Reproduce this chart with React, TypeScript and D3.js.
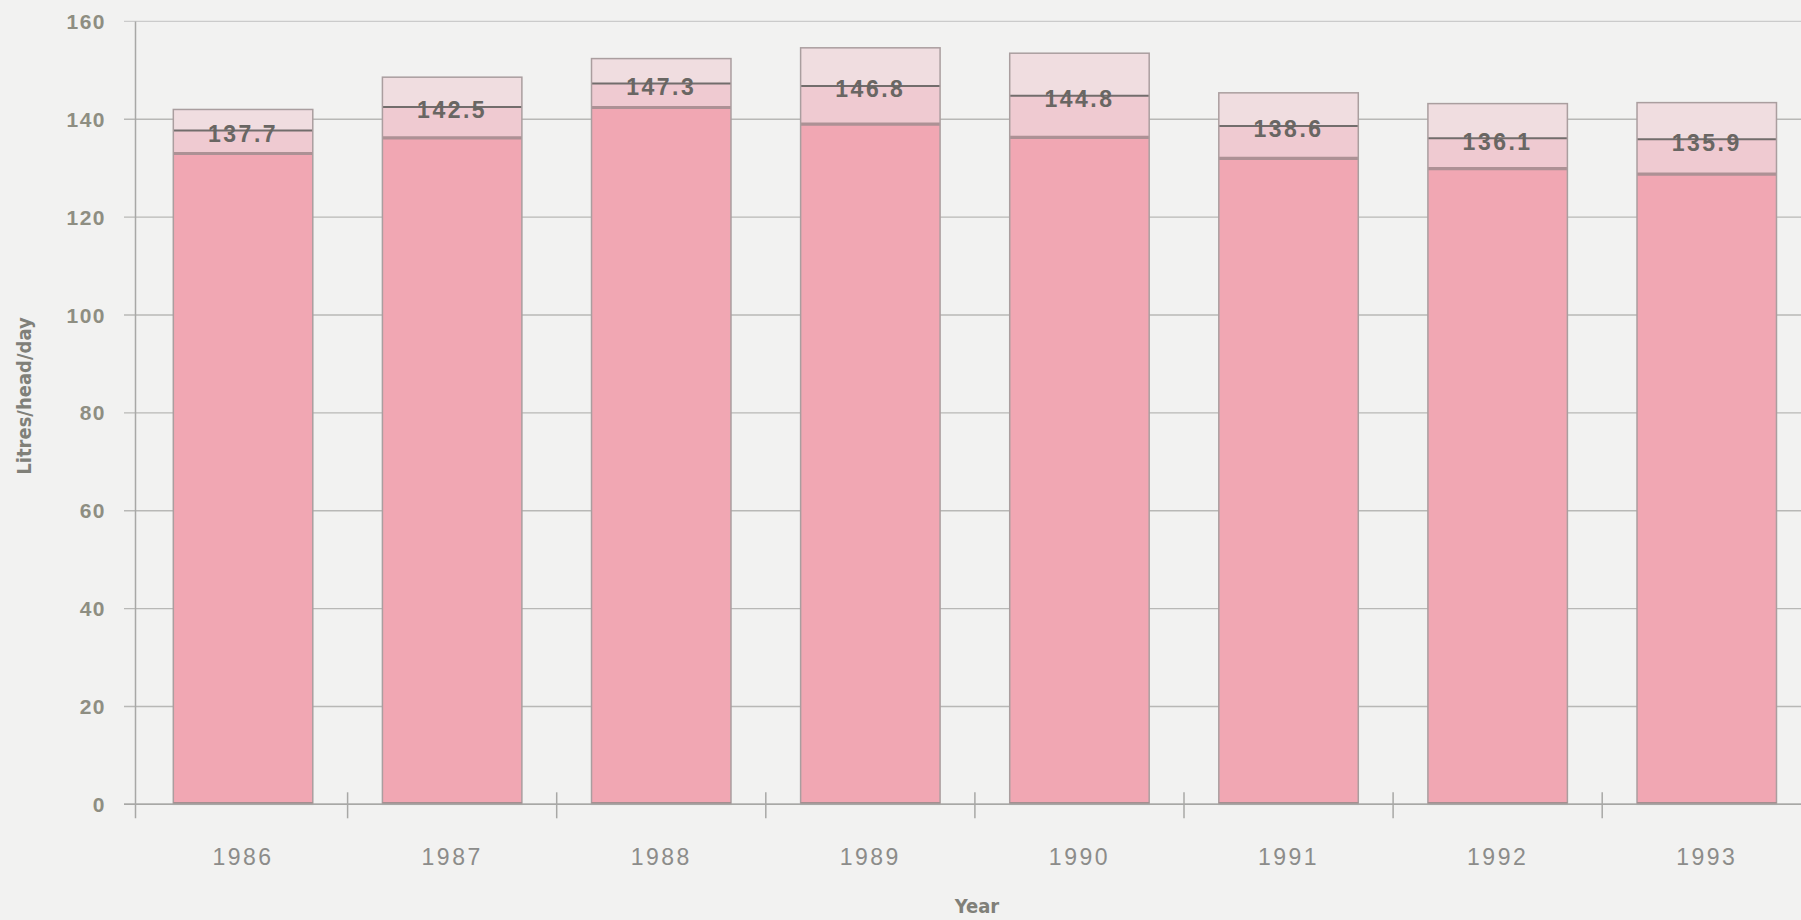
import React from 'react';
import * as d3 from 'd3';

const years = ['1986', '1987', '1988', '1989', '1990', '1991', '1992', '1993'];
const baseValues = [133.0, 136.2, 142.4, 139.0, 136.3, 132.0, 129.9, 128.8];
const labelTotals = [137.7, 142.5, 147.3, 146.8, 144.8, 138.6, 136.1, 135.9];
const grandTotals = [142.0, 148.6, 152.4, 154.6, 153.5, 145.4, 143.2, 143.4];
const yTicks = [0, 20, 40, 60, 80, 100, 120, 140, 160];

const W = 1801;
const H = 920;
const SANS = 'Liberation Sans, Arial, Helvetica, sans-serif';
const NARROW = 'Liberation Sans Narrow, Arial Narrow, DejaVu Sans Condensed, sans-serif';

export default function App() {
  const rows = years.map((yr, i) => ({
    year: yr,
    base: baseValues[i],
    mid: labelTotals[i] - baseValues[i],
    top: grandTotals[i] - labelTotals[i],
  }));
  const stack = d3.stack<any>().keys(['base', 'mid', 'top']);
  const series = stack(rows);

  const step = 209.1;
  const x0 = 138.5;
  const x = d3
    .scaleBand<string>()
    .domain(years)
    .range([x0, x0 + step * years.length])
    .paddingInner(0.333)
    .paddingOuter(0.1665);
  const y = d3.scaleLinear().domain([0, 160]).range([804.3, 21.4]);

  const fills: Record<string, string> = {
    base: '#f1a7b3',
    mid: '#efcad1',
    top: '#f0dde0',
  };

  const axisX = 135.5;
  const bw = x.bandwidth();

  return (
    <svg
      width={W}
      height={H}
      style={{ position: 'absolute', left: 0, top: 0, display: 'block', background: '#f2f2f1' }}
    >
      <rect x={0} y={0} width={W} height={H} fill="#f2f2f1" />
      {yTicks.map((t) => (
        <line
          key={'g' + t}
          x1={124}
          x2={W}
          y1={y(t)}
          y2={y(t)}
          stroke={t === 160 ? '#cbcbcb' : '#b8b8b6'}
          strokeWidth={1.4}
        />
      ))}
      <line x1={axisX} x2={axisX} y1={y(160)} y2={y(0) + 14} stroke="#a8a8a6" strokeWidth={1.5} />
      {yTicks.map((t) => (
        <text
          key={'yl' + t}
          x={106}
          y={y(t)}
          dy="0.36em"
          textAnchor="end"
          style={{ fontFamily: SANS, fontWeight: 700, fontSize: 21, letterSpacing: 1.5 }}
          fill="#8e8e82"
        >
          {t}
        </text>
      ))}
      {series.map((s) => (
        <g key={s.key}>
          {s.map((d, i) => (
            <rect
              key={years[i]}
              x={x(years[i])}
              y={y(d[1])}
              width={bw}
              height={y(d[0]) - y(d[1])}
              fill={fills[s.key]}
            />
          ))}
        </g>
      ))}
      {years.map((yr, i) => {
        const bx = x(yr) as number;
        return (
          <g key={'o' + yr}>
            <line x1={bx} x2={bx + bw} y1={y(baseValues[i])} y2={y(baseValues[i])} stroke="#ad9195" strokeWidth={3.2} />
            <line x1={bx} x2={bx + bw} y1={y(labelTotals[i])} y2={y(labelTotals[i])} stroke="#726d6c" strokeWidth={2} />
            <rect
              x={bx}
              y={y(grandTotals[i])}
              width={bw}
              height={y(0) - y(grandTotals[i])}
              fill="none"
              stroke="#aa9e9f"
              strokeWidth={1.5}
            />
            <line x1={bx} x2={bx + bw} y1={y(0) - 1} y2={y(0) - 1} stroke="#a48f90" strokeWidth={2.5} />
            <text
              x={bx + bw / 2}
              y={y(labelTotals[i]) + 3}
              dy="0.36em"
              textAnchor="middle"
              style={{ fontFamily: SANS, fontWeight: 700, fontSize: 23, letterSpacing: 2.5 }}
              fill="#696663"
            >
              {labelTotals[i].toFixed(1)}
            </text>
          </g>
        );
      })}
      <line x1={124} x2={W} y1={y(0)} y2={y(0)} stroke="#a8a8a6" strokeWidth={1.5} />
      {years.slice(1).map((yr) => {
        const bx = (x(yr) as number) - (step - bw) / 2;
        return <line key={'xt' + yr} x1={bx} x2={bx} y1={y(0) - 12} y2={y(0) + 14} stroke="#a8a8a6" strokeWidth={1.5} />;
      })}
      {years.map((yr) => (
        <text
          key={'xl' + yr}
          x={(x(yr) as number) + bw / 2}
          y={865}
          textAnchor="middle"
          style={{ fontFamily: SANS, fontSize: 23, letterSpacing: 2.5 }}
          fill="#8c8c8a"
        >
          {yr}
        </text>
      ))}
      <text
        x={977}
        y={913}
        textAnchor="middle"
        style={{ fontFamily: NARROW, fontWeight: 700, fontSize: 20 }}
        fill="#808079"
      >
        Year
      </text>
      <text
        transform={`translate(31, 396) rotate(-90)`}
        textAnchor="middle"
        style={{ fontFamily: NARROW, fontWeight: 700, fontSize: 20 }}
        fill="#808079"
      >
        Litres/head/day
      </text>
    </svg>
  );
}
